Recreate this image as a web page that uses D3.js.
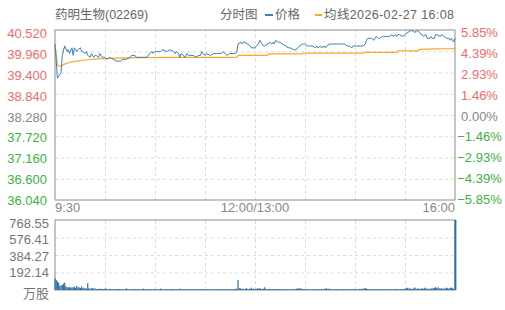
<!DOCTYPE html>
<html>
<head>
<meta charset="utf-8">
<script src="https://cdn.jsdelivr.net/npm/d3@7"></script>
<style>
  body { margin: 0; background: #fff; }
  svg { display: block; font-family: "Liberation Sans", Arial, "Noto Sans CJK SC", sans-serif; }
</style>
</head>
<body>
<svg id="chart" width="505" height="310"></svg>
<script>
// ---- data ----
var stockName = "药明生物(02269)";
var dateLabel = "均线2026-02-27 16:08";
var prevClose = 38.28;
var priceTicks = [40.52, 39.96, 39.40, 38.84, 38.28, 37.72, 37.16, 36.60, 36.04];
var pctTicks = ["5.85%", "4.39%", "2.93%", "1.46%", "0.00%", "\u22121.46%", "\u22122.93%", "\u22124.39%", "\u22125.85%"];
var volTicks = [768.55, 576.41, 384.27, 192.14];
var timeLabels = ["9:30", "12:00/13:00", "16:00"];
var timeLabelMinutes = [0, 165, 330];

// minute index (0 = 9:30, 150 = 12:00/13:00, 330 = 16:00 / close) and price
var priceTime = [0,2,3,5,6,8,10,11,12,14,15,16,18,19,21,22,23,25,26,27,29,30,32,33,34,36,37,39,40,41,43,45,48,51,54,56,59,62,63,66,67,70,73,76,78,80,81,82,84,87,89,92,95,98,99,100,102,103,104,106,107,109,110,111,114,117,118,120,121,122,124,125,128,131,133,136,137,139,140,142,144,147,149,150,151,153,154,155,157,158,159,161,162,165,166,168,169,170,172,173,175,176,177,179,180,181,182,184,186,187,188,190,191,192,194,197,199,200,202,204,206,208,209,212,215,216,217,219,220,222,223,224,227,230,231,232,234,237,239,241,243,245,246,249,252,254,256,257,258,261,263,264,265,267,268,270,271,274,276,278,279,281,282,283,284,287,289,290,291,293,294,295,297,298,299,301,302,303,304,306,307,309,310,311,313,314,315,318,319,321,323,325,326,327,329,330];
var priceValue = [40.15,39.25,39.30,39.40,39.85,40.10,39.95,40.00,39.90,40.05,39.85,40.05,39.95,40.00,40.05,39.95,39.95,39.90,39.95,39.85,39.80,39.90,39.80,39.85,39.85,39.80,39.90,39.80,39.80,39.80,39.75,39.80,39.75,39.70,39.70,39.75,39.75,39.80,39.85,39.85,39.80,39.80,39.80,39.80,39.90,39.95,39.90,39.95,39.95,39.95,40.00,39.95,40.00,39.95,39.90,39.95,39.90,39.80,39.90,39.85,39.80,39.90,39.85,39.85,39.85,39.80,39.85,39.85,39.95,39.90,39.85,39.90,39.85,39.90,39.90,39.90,39.90,39.95,39.90,39.85,39.90,39.90,39.90,39.95,40.15,40.20,40.15,40.20,40.20,40.15,40.15,40.10,40.05,40.05,40.10,40.15,40.25,40.20,40.10,40.10,40.15,40.15,40.20,40.15,40.20,40.15,40.25,40.20,40.20,40.15,40.15,40.10,40.10,40.05,40.05,40.00,40.00,40.05,40.10,40.15,40.15,40.10,40.10,40.10,40.05,40.10,40.05,40.10,40.05,40.10,40.05,40.10,40.15,40.15,40.15,40.15,40.15,40.15,40.15,40.10,40.10,40.05,40.10,40.10,40.10,40.10,40.15,40.25,40.30,40.30,40.25,40.30,40.35,40.30,40.30,40.35,40.35,40.35,40.35,40.40,40.35,40.40,40.35,40.40,40.40,40.35,40.40,40.45,40.45,40.50,40.50,40.50,40.45,40.50,40.50,40.45,40.40,40.40,40.35,40.40,40.30,40.30,40.35,40.30,40.30,40.40,40.40,40.35,40.40,40.35,40.30,40.30,40.25,40.30,40.20,40.30];

var avgTime = [0,2,4,8,12,18,25,35,50,70,100,150,151,175,176,204,205,254,255,282,283,300,301,314,329,330];
var avgValue = [40.15,39.60,39.56,39.62,39.67,39.70,39.73,39.76,39.78,39.79,39.80,39.80,39.85,39.85,39.89,39.89,39.91,39.91,39.93,39.93,39.97,39.97,40.01,40.02,40.03,40.06];

// volume per minute, 万股
var volume = [
  128,110,95,80,45,50,55,70,80,40,
  30,28,33,25,30,28,35,25,45,30,
  28,22,40,20,25,18,15,75,20,15,
  18,20,15,18,12,10,12,15,10,12,
  10,12,18,10,8,10,12,8,10,8,
  8,10,9,12,8,7,9,8,10,18,
  8,9,7,10,8,9,12,8,7,9,
  8,7,9,15,8,10,7,8,9,8,
  7,8,9,8,10,7,8,15,9,8,
  8,7,9,8,7,10,8,9,7,8,
  9,8,7,15,8,9,8,7,8,9,
  8,7,9,8,10,8,7,9,8,7,
  8,9,10,8,7,9,8,7,9,8,
  7,8,9,8,7,9,8,7,9,8,
  8,7,9,8,10,8,7,9,8,12,
  15,110,20,18,12,15,10,12,20,10,
  12,15,25,10,15,12,10,20,12,22,
  12,10,15,30,12,10,8,12,10,9,
  8,9,10,8,12,9,8,7,9,8,
  7,9,8,10,8,7,9,8,10,15,
  18,12,22,15,12,8,9,8,7,9,
  8,7,9,8,10,8,7,9,8,7,
  9,8,15,12,20,10,15,8,9,8,
  7,9,8,10,8,9,7,8,9,8,
  7,8,9,8,7,9,8,7,8,9,
  8,12,9,15,10,18,20,15,12,10,
  9,8,7,9,8,7,9,8,10,8,
  7,9,8,7,9,8,7,9,8,10,
  8,9,12,8,7,9,10,8,12,15,
  20,25,15,18,10,12,20,28,15,12,
  18,10,15,20,12,25,15,18,10,12,
  15,20,18,25,30,22,30,18,15,20,
  12,18,15,25,20,15,22,28,18,15,
  768.55
];

// ---- layout ----
var svg = d3.select("#chart");
var pLeft = 55, pRight = 455, pTop = 30, pBottom = 200;
var vTop = 220, vBottom = 290;
var red = "#f26b6b", green = "#3db13d", gray = "#888";

var x = d3.scaleLinear().domain([0, 330]).range([pLeft, pRight]);
var y = d3.scaleLinear().domain([36.04, 40.52]).range([pBottom, pTop]);
var yv = d3.scaleLinear().domain([0, 768.55]).range([vBottom, vTop]);
// labels sit a bit inside the plot at the ends
var yLab = d3.scaleLinear().domain([36.04, 40.52]).range([200.5, 33.8]);
var yvLab = d3.scaleLinear().domain([192.14, 768.55]).range([272.7, 223.3]);

var gridMinutes = d3.range(1, 8).map(function(i){ return i * 330 / 8; });

function grid(g, yScale, yVals, y0, y1){
  g.append("g")
    .attr("transform", "translate(" + pLeft + ",0)")
    .call(d3.axisLeft(yScale).tickValues(yVals).tickSize(-(pRight - pLeft)).tickFormat(""))
    .call(function(a){ a.select(".domain").remove(); });
  g.append("g")
    .attr("transform", "translate(0," + y1 + ")")
    .call(d3.axisBottom(x).tickValues(gridMinutes).tickSize(-(y1 - y0)).tickFormat(""))
    .call(function(a){ a.select(".domain").remove(); });
  g.selectAll("line").attr("stroke", "#dcdcdc").attr("stroke-dasharray", "3,3");
}

var gMain = svg.append("g");
grid(gMain, y, priceTicks.slice(1, 8), pTop, pBottom);
var gVol = svg.append("g");
grid(gVol, yv, volTicks.slice(1), vTop, vBottom);

// ---- borders ----
svg.append("rect").attr("x", pLeft).attr("y", pTop)
  .attr("width", pRight - pLeft).attr("height", pBottom - pTop)
  .attr("fill", "none").attr("stroke", "#8c8c8c");
svg.append("rect").attr("x", pLeft).attr("y", vTop)
  .attr("width", pRight - pLeft).attr("height", vBottom - vTop)
  .attr("fill", "none").attr("stroke", "#8c8c8c");

// ---- price + average ----
var pts = priceTime.map(function(t, i){ return [t, priceValue[i]]; });
var avgPts = avgTime.map(function(t, i){ return [t, avgValue[i]]; });
var line = d3.line().x(function(d){ return x(d[0]); }).y(function(d){ return y(d[1]); });

svg.append("path").datum(avgPts)
  .attr("d", line).attr("fill", "none")
  .attr("stroke", "#f7a928").attr("stroke-width", 1.2);
svg.append("path").datum(pts)
  .attr("d", line).attr("fill", "none")
  .attr("stroke", "#3b82b4").attr("stroke-width", 1);

// ---- volume bars ----
svg.append("g").selectAll("rect")
  .data(volume)
  .enter().append("rect")
  .attr("x", function(d, i){ return x(i) - 0.6; })
  .attr("width", function(d, i){ return i == volume.length - 1 ? 2 : 1.2; })
  .attr("y", function(d){ return yv(d); })
  .attr("height", function(d){ return vBottom - yv(d); })
  .attr("fill", "#2e6fa6");

// ---- axis labels ----
svg.append("g").selectAll("text")
  .data(priceTicks)
  .enter().append("text")
  .attr("x", 47).attr("y", function(d){ return yLab(d); })
  .attr("text-anchor", "end").attr("dominant-baseline", "central")
  .attr("font-size", 13)
  .attr("fill", function(d){ return d > prevClose ? red : (d < prevClose ? green : gray); })
  .text(function(d){ return d.toFixed(3); });

svg.append("g").selectAll("text")
  .data(pctTicks)
  .enter().append("text")
  .attr("x", 479.5).attr("y", function(d, i){ return yLab(priceTicks[i]) - 1; })
  .attr("text-anchor", "middle").attr("dominant-baseline", "central")
  .attr("font-size", 13)
  .attr("fill", function(d, i){ return i < 4 ? red : (i > 4 ? green : gray); })
  .text(function(d){ return d; });

svg.append("g").selectAll("text")
  .data(volTicks)
  .enter().append("text")
  .attr("x", 49).attr("y", function(d){ return yvLab(d); })
  .attr("text-anchor", "end").attr("dominant-baseline", "central")
  .attr("font-size", 13).attr("fill", "#777")
  .text(function(d){ return d.toFixed(2); });
svg.append("text").attr("x", 49).attr("y", 293.5)
  .attr("text-anchor", "end").attr("dominant-baseline", "central")
  .attr("font-size", 13).attr("fill", "#777").text("万股");

svg.append("g").selectAll("text")
  .data(timeLabels)
  .enter().append("text")
  .attr("x", function(d, i){ return x(timeLabelMinutes[i]); })
  .attr("y", 207)
  .attr("text-anchor", function(d, i){ return i == 0 ? "start" : (i == 1 ? "middle" : "end"); })
  .attr("dominant-baseline", "central")
  .attr("font-size", 13).attr("fill", gray)
  .text(function(d){ return d; });

// ---- title + legend ----
var head = svg.append("g").attr("font-size", 12.5).attr("fill", "#666");
head.append("text").attr("x", 55).attr("y", 15).attr("dominant-baseline", "central").text(stockName);
head.append("text").attr("x", 220).attr("y", 15).attr("dominant-baseline", "central").text("分时图");
head.append("line").attr("x1", 265).attr("x2", 273).attr("y1", 15).attr("y2", 15)
  .attr("stroke", "#3b82b4").attr("stroke-width", 2);
head.append("text").attr("x", 275).attr("y", 15).attr("dominant-baseline", "central").text("价格");
head.append("line").attr("x1", 315).attr("x2", 322).attr("y1", 15).attr("y2", 15)
  .attr("stroke", "#f7a928").attr("stroke-width", 2);
head.append("text").attr("x", 324).attr("y", 15)
  .attr("textLength", 130).attr("lengthAdjust", "spacing")
  .attr("dominant-baseline", "central").text(dateLabel);
</script>
</body>
</html>
